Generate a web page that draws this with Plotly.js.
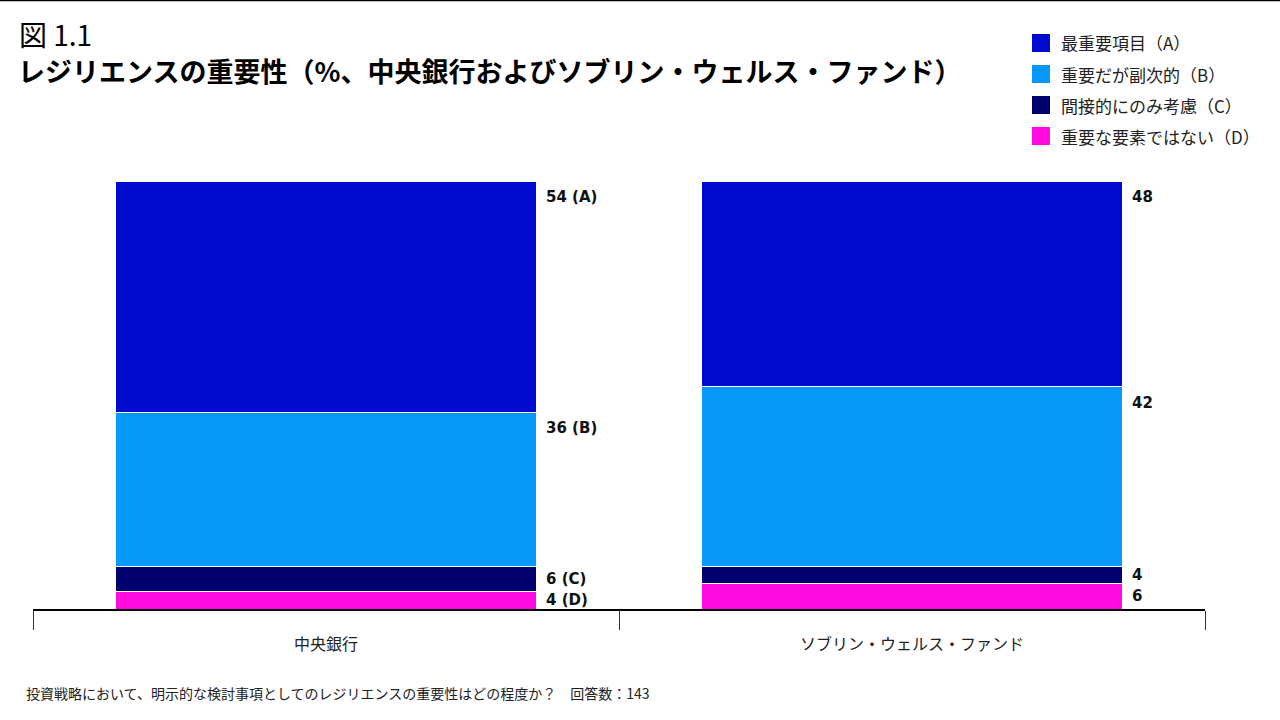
<!DOCTYPE html>
<html>
<head>
<meta charset="utf-8">
<script src="https://cdn.plot.ly/plotly-3.0.1.min.js"></script>
<style>html,body{margin:0;padding:0;background:#fff;}#chart{width:1280px;height:720px;}</style>
</head>
<body>
<div id="chart"></div>
<script>
const categories = ['中央銀行', 'ソブリン・ウェルス・ファンド'];
const seriesNames = ['最重要項目（A）', '重要だが副次的（B）', '間接的にのみ考慮（C）', '重要な要素ではない（D）'];
const seriesLetters = ['A', 'B', 'C', 'D'];
const valuesA = [54, 48];
const valuesB = [36, 42];
const valuesC = [6, 4];
const valuesD = [4, 6];
const seriesColors = ['#000BD0', '#0699FA', '#000070', '#FF0AE1'];
const titleNumber = '図 1.1';
const titleText = 'レジリエンスの重要性（%、中央銀行およびソブリン・ウェルス・ファンド）';
const footnote = '投資戦略において、明示的な検討事項としてのレジリエンスの重要性はどの程度か？　回答数：143';

const allValues = [valuesA, valuesB, valuesC, valuesD];

// plot area geometry (pixels)
const L = 33, R = 1205, T = 181, B = 609;
const px = x => (x - L) / (R - L);
const py = y => (B - y) / (B - T);

const FONT_JP = '"Noto Sans CJK JP", "Noto Sans", sans-serif';

// Stack bottom-up: D, C, B, A
const order = [3, 2, 1, 0];
const traces = order.map(i => ({
  type: 'bar',
  name: seriesNames[i],
  x: categories,
  y: allValues[i],
  marker: {color: seriesColors[i], line: {color: '#ffffff', width: 1}},
  hoverinfo: 'name+y',
  showlegend: false
}));

const annotations = [];
categories.forEach((cat, ci) => {
  let base = 0;
  order.forEach(i => {
    const v = allValues[i][ci];
    const top = base + v;
    const yPos = Math.max(top - 3.8, base + v / 2);
    annotations.push({
      x: cat, y: yPos, xref: 'x', yref: 'y',
      text: ci === 0 ? v + ' (' + seriesLetters[i] + ')' : String(v),
      showarrow: false, xanchor: 'left', yanchor: 'middle', xshift: 218,
      font: {family: '"DejaVu Sans", Verdana, sans-serif', size: 15, color: '#111', weight: 'bold'}
    });
    base = top;
  });
});

// titles
annotations.push({
  xref: 'paper', yref: 'paper', x: px(17), y: py(34), xanchor: 'left', yanchor: 'middle',
  text: titleNumber, showarrow: false,
  font: {family: FONT_JP, size: 28, color: '#000'}
});
annotations.push({
  xref: 'paper', yref: 'paper', x: px(16), y: py(70), xanchor: 'left', yanchor: 'middle',
  text: '<b>' + titleText + '</b>', showarrow: false,
  font: {family: FONT_JP, size: 27, color: '#000'}
});
annotations.push({
  xref: 'paper', yref: 'paper', x: px(24), y: py(693), xanchor: 'left', yanchor: 'middle',
  text: footnote, showarrow: false,
  font: {family: FONT_JP, size: 14, color: '#222'}
});

// custom legend
const shapes = [{
  type: 'line', xref: 'paper', yref: 'paper',
  x0: px(0), x1: px(1280), y0: py(0.5), y1: py(0.5),
  line: {color: '#000', width: 1.5}
}];
seriesNames.forEach((n, i) => {
  const cy = 43 + i * 31;
  shapes.push({
    type: 'rect', xref: 'paper', yref: 'paper',
    x0: px(1032), x1: px(1050), y0: py(cy - 9), y1: py(cy + 9),
    fillcolor: seriesColors[i], line: {width: 0}
  });
  annotations.push({
    xref: 'paper', yref: 'paper', x: px(1059), y: py(cy), xanchor: 'left', yanchor: 'middle',
    text: n, showarrow: false,
    font: {family: FONT_JP, size: 17, color: '#222'}
  });
});

const layout = {
  width: 1280, height: 720,
  margin: {l: L, r: 1280 - R, t: T, b: 720 - B, pad: 0},
  paper_bgcolor: '#fff', plot_bgcolor: '#fff',
  barmode: 'stack', bargap: 0.28,
  showlegend: false,
  xaxis: {
    type: 'category', range: [-0.5, 1.5],
    showline: true, linecolor: '#000', linewidth: 2,
    ticks: 'outside', tickson: 'boundaries', ticklen: 19, tickcolor: '#333', tickwidth: 1,
    ticklabelstandoff: 20,
    showgrid: false, zeroline: false,
    tickfont: {family: FONT_JP, size: 16, color: '#222'}
  },
  yaxis: {range: [0, 100], visible: false, showgrid: false, zeroline: false, fixedrange: true},
  annotations: annotations,
  shapes: shapes
};

Plotly.newPlot('chart', traces, layout, {displayModeBar: false, staticPlot: true});
</script>
</body>
</html>
